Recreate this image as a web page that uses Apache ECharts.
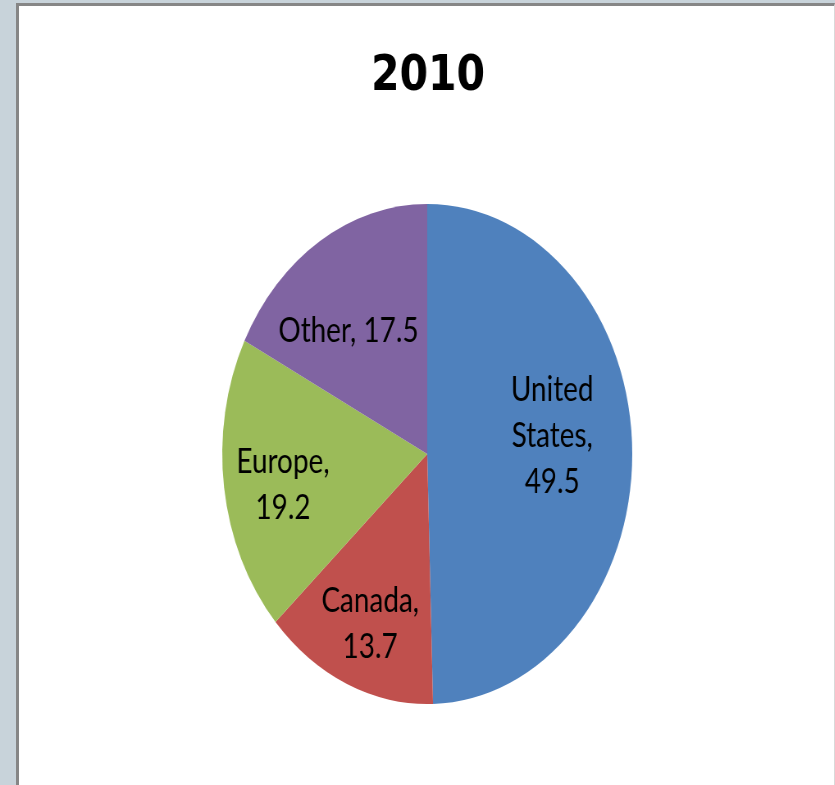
<!DOCTYPE html>
<html>
<head>
<meta charset="utf-8">
<title>2010</title>
<script src="https://cdn.jsdelivr.net/npm/echarts@6/dist/echarts.min.js"></script>
<style>
  html, body { margin: 0; padding: 0; width: 835px; height: 785px; overflow: hidden; background: #c8d3da; }
  #sheet {
    position: absolute; left: 16px; top: 3px; width: 815px; height: 781px;
    background: #ffffff;
    border-left: 3px solid #868686; border-top: 3px solid #868686;
    border-right: 1px solid #d9d9d9; border-bottom: 1px solid #d9d9d9;
  }
  /* The chart is laid out wide and squeezed horizontally, giving the oval pie */
  #chart {
    position: absolute; left: 0; top: 0; width: 1044px; height: 785px;
    transform: scaleX(0.82); transform-origin: 0 0;
  }
</style>
</head>
<body>
<div id="sheet"></div>
<div id="chart"></div>
<script>
  // Share by region, 2010
  const regions = ['United States', 'Canada', 'Europe', 'Other'];
  const shares = [49.5, 13.7, 19.2, 17.5];
  const sliceColors = ['#4f81bd', '#c0504d', '#9bbb59', '#8064a2'];

  // Label text: name and value, wrapped the way the slices allow
  const labelLines = [
    ['United', 'States,'],
    ['Canada,'],
    ['Europe,'],
    ['Other,']
  ];

  // Pie geometry (in the unsqueezed frame)
  const PIE_CX = 521, PIE_CY = 454, PIE_R = 250;
  // How far out along each slice's mid-line its label sits, plus small nudges
  const labelReach = [0.61, 0.71, 0.71, 0.62];
  const labelNudge = [[0, -16], [0, 7], [0, 7], [-15, 9]];

  const chart = echarts.init(document.getElementById('chart'), null, { renderer: 'canvas' });

  const data = regions.map((name, i) => ({
    name,
    value: shares[i],
    itemStyle: { color: sliceColors[i] }
  }));

  chart.setOption({
    animation: false,
    backgroundColor: 'transparent',
    title: {
      text: '2010',
      left: 'center',
      top: 47,
      textStyle: {
        fontFamily: 'DejaVu Sans',
        fontWeight: 'bold',
        fontSize: 50,
        color: '#000000'
      }
    },
    series: [{
      type: 'pie',
      center: [PIE_CX, PIE_CY],
      radius: [0, PIE_R],
      startAngle: 90,
      clockwise: true,
      avoidLabelOverlap: false,
      itemStyle: { borderWidth: 0 },
      emphasis: { disabled: true },
      label: {
        show: true,
        position: 'inside',
        fontFamily: 'Lato',
        fontSize: 34,
        lineHeight: 46,
        color: '#000000',
        align: 'center',
        formatter: (p) => {
          const lines = labelLines[p.dataIndex].slice();
          const v = p.value.toFixed(1);
          if (p.dataIndex === 3) {
            return lines[0] + ' ' + v;
          }
          lines.push(v);
          return lines.join('\n');
        }
      },
      labelLine: { show: false },
      labelLayout: (params) => {
        const r = params.labelRect;
        const lx = r.x + r.width / 2;
        const ly = r.y + r.height / 2;
        const vx = lx - PIE_CX, vy = ly - PIE_CY;
        const len = Math.sqrt(vx * vx + vy * vy) || 1;
        const reach = labelReach[params.dataIndex] * PIE_R;
        const nudge = labelNudge[params.dataIndex];
        const tx = PIE_CX + vx / len * reach + nudge[0];
        const ty = PIE_CY + vy / len * reach + nudge[1];
        return { dx: tx - lx, dy: ty - ly };
      },
      data
    }]
  });
</script>
</body>
</html>
